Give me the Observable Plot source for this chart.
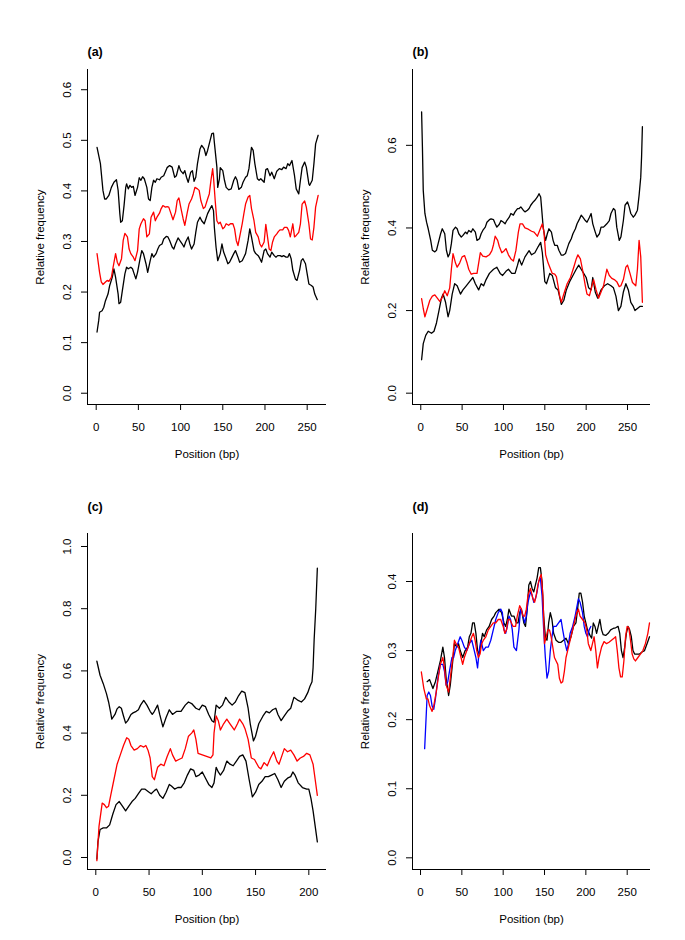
<!DOCTYPE html>
<html><head><meta charset="utf-8">
<script src="https://cdn.jsdelivr.net/npm/d3@7"></script>
<script src="https://cdn.jsdelivr.net/npm/@observablehq/plot@0.6"></script>
<style>
html,body{margin:0;padding:0;background:#fff;}
#chart{position:relative;width:685px;height:940px;overflow:hidden;background:#fff;}
#chart > svg{position:absolute;}
</style></head><body><div id="chart"></div>
<script>
// ---------- Panel (a) ----------
const aUpper = [[1,0.486],[5,0.454],[8,0.401],[10,0.384],[12,0.384],[15,0.391],[18,0.407],[21,0.417],[24,0.422],[26,0.401],[28,0.355],[29,0.338],[31,0.341],[33,0.371],[35,0.407],[36,0.414],[38,0.404],[40,0.411],[42,0.407],[44,0.409],[46,0.391],[49,0.407],[51,0.426],[53,0.421],[55,0.428],[57,0.424],[60,0.407],[62,0.384],[64,0.381],[66,0.407],[68,0.421],[70,0.417],[72,0.424],[75,0.422],[77,0.427],[80,0.430],[84,0.446],[87,0.450],[90,0.447],[93,0.427],[95,0.430],[98,0.450],[100,0.440],[103,0.434],[105,0.440],[107,0.427],[109,0.417],[112,0.437],[114,0.440],[116,0.419],[118,0.427],[120,0.454],[123,0.483],[125,0.490],[128,0.483],[130,0.470],[132,0.480],[135,0.500],[137,0.513],[139,0.514],[140,0.496],[143,0.447],[144,0.407],[146,0.424],[147,0.446],[150,0.440],[152,0.421],[154,0.407],[157,0.402],[160,0.404],[163,0.421],[165,0.428],[167,0.421],[169,0.403],[172,0.407],[174,0.417],[177,0.427],[179,0.430],[181,0.444],[184,0.486],[186,0.480],[188,0.454],[191,0.424],[193,0.421],[195,0.424],[199,0.417],[201,0.442],[203,0.444],[206,0.430],[208,0.437],[211,0.424],[214,0.439],[217,0.444],[220,0.442],[222,0.447],[225,0.444],[227,0.454],[229,0.450],[232,0.460],[235,0.430],[237,0.404],[240,0.394],[242,0.421],[244,0.446],[247,0.457],[249,0.447],[252,0.414],[253,0.411],[256,0.421],[258,0.454],[260,0.493],[263,0.510]];
const aMid = [[1,0.276],[4,0.239],[6,0.220],[8,0.215],[11,0.220],[13,0.223],[15,0.221],[18,0.229],[20,0.249],[23,0.276],[25,0.259],[27,0.252],[30,0.266],[32,0.302],[34,0.316],[37,0.309],[39,0.285],[41,0.276],[44,0.269],[46,0.262],[49,0.282],[51,0.325],[53,0.335],[56,0.345],[58,0.341],[60,0.309],[63,0.315],[65,0.348],[68,0.358],[70,0.341],[72,0.348],[75,0.356],[77,0.365],[79,0.371],[82,0.368],[84,0.369],[86,0.368],[89,0.353],[91,0.343],[94,0.358],[96,0.381],[98,0.386],[101,0.361],[103,0.345],[105,0.332],[108,0.358],[110,0.374],[113,0.384],[115,0.394],[117,0.407],[120,0.404],[122,0.401],[124,0.381],[127,0.365],[129,0.368],[132,0.384],[134,0.394],[136,0.421],[138,0.444],[139,0.427],[141,0.381],[143,0.341],[145,0.335],[147,0.338],[150,0.325],[152,0.328],[154,0.335],[157,0.332],[159,0.335],[162,0.335],[164,0.325],[166,0.302],[168,0.292],[170,0.309],[173,0.335],[175,0.355],[177,0.374],[180,0.388],[182,0.391],[184,0.365],[187,0.341],[189,0.318],[192,0.309],[194,0.295],[196,0.289],[199,0.299],[201,0.334],[203,0.309],[205,0.285],[207,0.282],[209,0.299],[211,0.309],[214,0.315],[216,0.320],[218,0.323],[221,0.323],[223,0.328],[226,0.328],[228,0.322],[230,0.309],[233,0.335],[235,0.309],[237,0.312],[240,0.318],[242,0.335],[244,0.374],[247,0.380],[249,0.368],[252,0.335],[254,0.305],[256,0.303],[258,0.328],[260,0.368],[263,0.391]];
const aLower = [[1,0.121],[3,0.144],[4,0.160],[7,0.163],[9,0.170],[11,0.183],[14,0.196],[16,0.213],[19,0.229],[21,0.246],[23,0.229],[26,0.196],[27,0.177],[29,0.180],[31,0.203],[34,0.236],[36,0.249],[38,0.246],[41,0.249],[43,0.246],[45,0.236],[47,0.226],[49,0.239],[52,0.266],[54,0.282],[56,0.276],[59,0.256],[61,0.239],[64,0.262],[66,0.276],[68,0.269],[71,0.276],[73,0.285],[75,0.292],[78,0.295],[80,0.305],[83,0.310],[85,0.309],[87,0.302],[90,0.289],[92,0.285],[94,0.295],[97,0.307],[99,0.302],[102,0.295],[104,0.289],[106,0.299],[109,0.309],[111,0.295],[113,0.285],[116,0.295],[118,0.318],[120,0.338],[123,0.348],[125,0.341],[128,0.335],[130,0.345],[132,0.355],[135,0.365],[137,0.371],[139,0.361],[140,0.328],[142,0.289],[144,0.262],[147,0.276],[149,0.295],[151,0.279],[154,0.266],[156,0.256],[158,0.259],[161,0.269],[163,0.276],[165,0.282],[168,0.269],[170,0.259],[173,0.262],[175,0.269],[177,0.276],[180,0.302],[182,0.325],[184,0.309],[187,0.282],[189,0.276],[192,0.272],[194,0.266],[196,0.259],[199,0.282],[201,0.285],[203,0.276],[206,0.269],[208,0.279],[211,0.272],[213,0.269],[215,0.272],[218,0.272],[220,0.270],[222,0.272],[225,0.269],[227,0.269],[229,0.276],[231,0.266],[233,0.243],[236,0.226],[238,0.223],[241,0.243],[243,0.262],[245,0.266],[248,0.256],[250,0.236],[252,0.216],[255,0.213],[257,0.210],[259,0.196],[262,0.185]];

// ---------- Panel (b) ----------
const bUpper = [[1,0.681],[2,0.596],[3,0.491],[5,0.435],[7,0.414],[9,0.398],[12,0.370],[14,0.346],[17,0.342],[19,0.346],[21,0.362],[24,0.386],[26,0.398],[29,0.386],[31,0.346],[33,0.330],[35,0.338],[37,0.362],[39,0.394],[42,0.402],[44,0.398],[46,0.386],[49,0.378],[51,0.382],[54,0.390],[56,0.386],[58,0.394],[61,0.390],[63,0.398],[66,0.390],[68,0.370],[71,0.374],[73,0.386],[75,0.394],[78,0.402],[80,0.414],[83,0.420],[85,0.422],[88,0.420],[90,0.410],[92,0.402],[95,0.409],[97,0.418],[100,0.414],[102,0.410],[104,0.418],[107,0.426],[109,0.435],[112,0.431],[114,0.439],[117,0.447],[119,0.447],[121,0.451],[124,0.443],[126,0.439],[129,0.443],[131,0.447],[133,0.455],[136,0.463],[138,0.467],[141,0.475],[143,0.483],[145,0.475],[146,0.451],[148,0.402],[150,0.378],[151,0.370],[153,0.386],[155,0.398],[158,0.390],[160,0.370],[162,0.358],[165,0.358],[167,0.346],[170,0.334],[172,0.334],[175,0.338],[177,0.350],[179,0.362],[182,0.374],[184,0.386],[187,0.398],[189,0.410],[192,0.422],[194,0.431],[196,0.426],[199,0.418],[201,0.414],[204,0.426],[206,0.435],[208,0.410],[211,0.390],[213,0.378],[216,0.386],[218,0.402],[221,0.402],[223,0.406],[225,0.410],[228,0.418],[230,0.435],[233,0.447],[235,0.443],[237,0.402],[240,0.370],[242,0.378],[245,0.418],[247,0.455],[250,0.463],[252,0.451],[254,0.435],[257,0.426],[259,0.431],[262,0.443],[264,0.479],[266,0.523],[267,0.572],[268,0.645]];
const bMid = [[1,0.229],[3,0.205],[5,0.185],[8,0.205],[11,0.225],[14,0.235],[17,0.238],[20,0.230],[23,0.222],[26,0.232],[29,0.248],[32,0.236],[35,0.255],[37,0.30],[39,0.338],[42,0.315],[44,0.305],[47,0.315],[50,0.33],[53,0.333],[56,0.315],[58,0.30],[61,0.288],[64,0.29],[68,0.29],[70,0.315],[72,0.34],[75,0.332],[79,0.33],[83,0.335],[86,0.345],[88,0.36],[90,0.38],[93,0.37],[95,0.355],[98,0.34],[101,0.345],[103,0.35],[106,0.335],[109,0.325],[112,0.32],[115,0.345],[118,0.39],[120,0.41],[123,0.41],[126,0.40],[130,0.397],[134,0.392],[137,0.39],[141,0.38],[144,0.395],[147,0.41],[149,0.39],[151,0.335],[154,0.315],[157,0.30],[159,0.29],[162,0.288],[164,0.282],[166,0.26],[168,0.235],[170,0.22],[173,0.24],[177,0.265],[181,0.28],[185,0.305],[188,0.325],[190,0.335],[193,0.325],[196,0.295],[199,0.26],[201,0.24],[204,0.236],[207,0.26],[209,0.275],[212,0.25],[215,0.23],[218,0.245],[221,0.26],[223,0.28],[225,0.30],[228,0.285],[231,0.278],[234,0.275],[237,0.27],[240,0.258],[242,0.26],[245,0.275],[248,0.305],[250,0.31],[253,0.29],[256,0.268],[260,0.26],[262,0.30],[264,0.37],[266,0.33],[268,0.22]];
const bLower = [[1,0.081],[3,0.12],[6,0.14],[9,0.15],[13,0.145],[16,0.15],[19,0.17],[22,0.20],[25,0.23],[27,0.24],[30,0.22],[33,0.185],[35,0.20],[38,0.24],[41,0.265],[44,0.26],[48,0.24],[51,0.25],[55,0.26],[59,0.27],[63,0.28],[66,0.265],[70,0.25],[73,0.265],[76,0.26],[79,0.275],[83,0.29],[88,0.30],[92,0.305],[96,0.29],[99,0.285],[103,0.295],[106,0.30],[110,0.29],[114,0.29],[117,0.31],[119,0.325],[122,0.31],[126,0.33],[131,0.345],[134,0.335],[138,0.34],[142,0.355],[145,0.365],[147,0.34],[150,0.27],[152,0.265],[156,0.29],[159,0.285],[163,0.255],[166,0.25],[170,0.215],[173,0.225],[176,0.25],[180,0.27],[184,0.285],[188,0.30],[191,0.31],[194,0.30],[197,0.29],[200,0.28],[203,0.255],[206,0.25],[208,0.28],[211,0.245],[214,0.23],[218,0.25],[222,0.26],[226,0.265],[230,0.26],[233,0.255],[236,0.235],[239,0.20],[242,0.21],[245,0.245],[248,0.265],[251,0.25],[254,0.22],[257,0.21],[259,0.20],[262,0.205],[265,0.21],[268,0.21]];

// ---------- Panel (c) ----------
const cUpper = [[1,0.631],[4,0.586],[7,0.559],[10,0.527],[12,0.50],[14,0.465],[15,0.445],[18,0.46],[20,0.478],[22,0.485],[24,0.48],[26,0.455],[28,0.432],[30,0.44],[33,0.46],[35,0.465],[38,0.47],[40,0.475],[42,0.49],[45,0.505],[48,0.49],[51,0.47],[53,0.46],[55,0.47],[58,0.49],[60,0.46],[63,0.42],[66,0.45],[69,0.475],[72,0.46],[76,0.47],[80,0.47],[84,0.49],[87,0.50],[90,0.495],[94,0.48],[97,0.475],[100,0.49],[103,0.485],[106,0.46],[109,0.44],[111,0.435],[113,0.49],[116,0.48],[119,0.49],[122,0.515],[125,0.50],[128,0.49],[131,0.50],[134,0.52],[137,0.535],[140,0.53],[143,0.48],[145,0.43],[148,0.375],[150,0.39],[153,0.43],[157,0.455],[160,0.47],[163,0.465],[166,0.475],[169,0.48],[171,0.46],[174,0.44],[177,0.455],[180,0.47],[183,0.48],[186,0.515],[190,0.505],[193,0.50],[196,0.51],[199,0.53],[201,0.55],[203,0.565],[204,0.61],[205,0.70],[206.5,0.80],[208,0.93]];
const cMid = [[1,-0.01],[3,0.10],[6,0.175],[8,0.17],[10,0.16],[12,0.165],[14,0.20],[17,0.25],[20,0.30],[23,0.33],[26,0.36],[29,0.385],[31,0.38],[33,0.36],[36,0.345],[39,0.35],[42,0.36],[45,0.355],[47,0.36],[49,0.345],[51,0.32],[53,0.26],[55,0.25],[58,0.29],[61,0.30],[64,0.295],[67,0.325],[70,0.35],[72,0.33],[75,0.31],[78,0.315],[81,0.32],[84,0.35],[87,0.39],[90,0.40],[92,0.41],[94,0.38],[96,0.335],[100,0.33],[104,0.325],[108,0.32],[110,0.33],[111,0.40],[113,0.455],[115,0.44],[117,0.41],[120,0.43],[123,0.445],[126,0.43],[130,0.41],[133,0.43],[135,0.445],[138,0.43],[140,0.415],[143,0.38],[146,0.32],[149,0.315],[153,0.29],[155,0.285],[158,0.305],[161,0.295],[164,0.32],[167,0.34],[170,0.31],[172,0.30],[175,0.33],[177,0.35],[180,0.34],[183,0.345],[186,0.33],[189,0.31],[192,0.32],[195,0.325],[198,0.335],[201,0.33],[204,0.30],[206,0.25],[208,0.20]];
const cLower = [[1,-0.005],[2,0.05],[4,0.09],[7,0.095],[10,0.095],[13,0.105],[16,0.14],[19,0.17],[22,0.18],[25,0.165],[28,0.15],[31,0.165],[34,0.18],[37,0.19],[40,0.205],[43,0.22],[46,0.22],[50,0.21],[52,0.205],[55,0.215],[57,0.22],[60,0.20],[63,0.19],[66,0.21],[69,0.235],[71,0.23],[74,0.22],[77,0.225],[80,0.225],[83,0.24],[86,0.265],[89,0.285],[92,0.28],[94,0.26],[97,0.265],[100,0.275],[103,0.255],[106,0.235],[109,0.225],[111,0.24],[113,0.29],[115,0.275],[117,0.265],[120,0.28],[123,0.31],[126,0.30],[129,0.295],[132,0.31],[135,0.325],[138,0.33],[141,0.31],[144,0.25],[147,0.195],[150,0.21],[153,0.235],[156,0.245],[159,0.26],[162,0.26],[165,0.265],[168,0.27],[171,0.25],[174,0.225],[177,0.245],[180,0.255],[183,0.26],[185,0.275],[187,0.265],[190,0.24],[194,0.225],[198,0.22],[200,0.22],[202,0.19],[204,0.15],[206,0.10],[208,0.05]];

// ---------- Panel (d) ----------
const dBlack = [[8,0.255],[11,0.258],[15,0.245],[18,0.255],[21,0.27],[24,0.285],[27,0.305],[29,0.29],[31,0.26],[34,0.235],[36,0.25],[39,0.285],[41,0.31],[44,0.305],[46,0.31],[48,0.30],[51,0.29],[54,0.30],[57,0.305],[59,0.32],[61,0.325],[63,0.34],[65,0.34],[67,0.325],[69,0.30],[71,0.295],[73,0.31],[75,0.325],[77,0.32],[80,0.33],[83,0.335],[86,0.345],[89,0.35],[91,0.355],[95,0.36],[98,0.355],[101,0.34],[103,0.335],[105,0.345],[107,0.36],[110,0.35],[113,0.35],[116,0.34],[118,0.34],[120,0.355],[122,0.36],[125,0.34],[127,0.335],[129,0.36],[131,0.395],[133,0.40],[135,0.39],[137,0.385],[139,0.395],[141,0.405],[143,0.42],[145,0.42],[147,0.40],[149,0.35],[151,0.32],[153,0.315],[155,0.34],[157,0.355],[159,0.345],[161,0.325],[164,0.315],[167,0.312],[170,0.312],[173,0.315],[176,0.318],[179,0.31],[182,0.32],[185,0.335],[188,0.34],[190,0.36],[192,0.383],[194,0.383],[196,0.37],[198,0.35],[200,0.34],[202,0.33],[205,0.322],[207,0.318],[209,0.34],[211,0.335],[213,0.325],[215,0.335],[217,0.345],[219,0.33],[221,0.323],[224,0.322],[227,0.325],[230,0.33],[233,0.332],[236,0.333],[239,0.335],[241,0.325],[243,0.30],[245,0.29],[247,0.305],[249,0.325],[251,0.335],[253,0.33],[255,0.32],[257,0.30],[259,0.295],[262,0.295],[265,0.295],[268,0.298],[271,0.30],[274,0.31],[277,0.32]];
const dBlue = [[5,0.158],[8,0.235],[10,0.24],[12,0.235],[14,0.22],[16,0.215],[18,0.23],[21,0.26],[24,0.28],[27,0.28],[29,0.27],[31,0.25],[33,0.255],[35,0.27],[38,0.29],[40,0.29],[42,0.30],[45,0.31],[48,0.32],[50,0.315],[53,0.305],[56,0.30],[59,0.31],[62,0.315],[65,0.30],[67,0.29],[69,0.275],[71,0.30],[73,0.315],[76,0.30],[79,0.305],[82,0.305],[85,0.315],[88,0.33],[91,0.345],[94,0.355],[97,0.36],[99,0.355],[101,0.33],[103,0.325],[105,0.335],[107,0.35],[109,0.345],[111,0.33],[113,0.305],[116,0.30],[119,0.33],[121,0.36],[123,0.355],[126,0.34],[128,0.35],[130,0.37],[133,0.385],[135,0.38],[137,0.37],[139,0.375],[141,0.385],[143,0.40],[145,0.405],[147,0.38],[149,0.33],[151,0.29],[153,0.26],[155,0.27],[157,0.30],[159,0.32],[161,0.335],[164,0.335],[167,0.34],[170,0.345],[172,0.33],[175,0.31],[177,0.30],[179,0.31],[181,0.325],[184,0.335],[187,0.35],[191,0.375],[193,0.37],[196,0.355],[198,0.335],[200,0.325],[202,0.32],[204,0.33],[206,0.335]];
const dRed = [[1,0.269],[4,0.245],[7,0.23],[9,0.23],[11,0.22],[14,0.212],[16,0.22],[19,0.24],[22,0.265],[24,0.28],[27,0.29],[29,0.275],[31,0.25],[34,0.24],[36,0.26],[39,0.29],[41,0.315],[43,0.31],[46,0.305],[49,0.29],[51,0.28],[53,0.29],[56,0.30],[59,0.31],[62,0.32],[64,0.325],[66,0.315],[68,0.30],[70,0.29],[72,0.295],[74,0.31],[76,0.315],[79,0.32],[82,0.33],[85,0.335],[88,0.34],[91,0.34],[94,0.345],[97,0.345],[100,0.335],[102,0.325],[104,0.33],[106,0.345],[108,0.345],[110,0.34],[112,0.335],[115,0.335],[117,0.35],[120,0.365],[122,0.36],[124,0.35],[126,0.35],[128,0.36],[130,0.38],[133,0.39],[136,0.375],[138,0.37],[140,0.38],[142,0.395],[144,0.405],[146,0.41],[148,0.38],[150,0.31],[152,0.32],[154,0.33],[156,0.33],[158,0.32],[160,0.305],[162,0.29],[164,0.285],[166,0.28],[168,0.26],[170,0.253],[172,0.255],[174,0.27],[176,0.29],[178,0.30],[180,0.31],[183,0.325],[186,0.34],[189,0.355],[191,0.36],[193,0.35],[196,0.345],[199,0.34],[201,0.33],[203,0.31],[206,0.30],[208,0.31],[210,0.32],[212,0.30],[214,0.275],[216,0.29],[219,0.305],[222,0.313],[225,0.31],[228,0.312],[231,0.315],[234,0.318],[236,0.32],[238,0.30],[240,0.275],[242,0.262],[244,0.262],[246,0.285],[248,0.32],[250,0.335],[252,0.333],[254,0.315],[256,0.295],[258,0.288],[260,0.285],[263,0.29],[266,0.295],[269,0.30],[272,0.31],[275,0.325],[277,0.34]];

// ---------- Tick labels ----------
const xTicks250 = [0, 50, 100, 150, 200, 250];
const xTicks200 = [0, 50, 100, 150, 200];
const yTicksA = [0, 0.1, 0.2, 0.3, 0.4, 0.5, 0.6];
const yTicksB = [0, 0.2, 0.4, 0.6];
const yTicksC = [0, 0.2, 0.4, 0.6, 0.8, 1.0];
const yTicksD = [0, 0.1, 0.2, 0.3, 0.4];
const titles = ["(a)", "(b)", "(c)", "(d)"];
const yLabel = "Relative frequency";
const xLabel = "Position (bp)";

const FONT = "'Liberation Sans', Arial, Helvetica, sans-serif";
const FS = 11.5;

function panel(cfg) {
  const {title, titleDy, series, xDomain, yDomain, xTicks, yTicks, left, top, width, height, mL, mR, mT, mB} = cfg;
  const marks = [
    ...series.map(s => Plot.line(s.data, {x: d => d[0], y: d => d[1], stroke: s.color, strokeWidth: 1.3, strokeLinejoin: "round"})),
    Plot.ruleX([xDomain[0]], {stroke: "#000", strokeWidth: 1}),
    Plot.ruleY([yDomain[0]], {stroke: "#000", strokeWidth: 1}),
    Plot.axisX(xTicks, {tickSize: 6, tickPadding: 12, tickFormat: d => String(d), label: null, fontSize: FS}),
    Plot.axisY(yTicks, {tickSize: 6, tickPadding: 11, tickRotate: -90, tickFormat: d3.format(".1f"), label: null, fontSize: FS}),
    Plot.text([title], {text: d => d, frameAnchor: "top-left", dy: titleDy, textAnchor: "start", lineAnchor: "bottom", fontWeight: "bold", fontSize: 12.5}),
    Plot.text([yLabel], {text: d => d, frameAnchor: "left", dx: -47, rotate: -90, lineAnchor: "middle", textAnchor: "middle", fontSize: FS}),
    Plot.text([xLabel], {text: d => d, frameAnchor: "bottom", dy: 50, lineAnchor: "middle", textAnchor: "middle", fontSize: FS})
  ];
  const svg = Plot.plot({
    width, height,
    marginLeft: mL, marginRight: mR, marginTop: mT, marginBottom: mB,
    x: {domain: xDomain},
    y: {domain: yDomain},
    style: {fontFamily: FONT, fontSize: FS + "px", color: "#000", background: "transparent", overflow: "visible"},
    marks
  });
  svg.style.left = left + "px";
  svg.style.top = top + "px";
  document.getElementById("chart").append(svg);
}

panel({title: titles[0], titleDy: -14, xDomain: [-10.3, 272.9], yDomain: [-0.0223, 0.640], xTicks: xTicks250, yTicks: yTicksA,
  left: 0, top: 0, width: 342, height: 470, mL: 87, mR: 16, mT: 69, mB: 66,
  series: [{data: aUpper, color: "#000"}, {data: aLower, color: "#000"}, {data: aMid, color: "#ff0000"}]});
panel({title: titles[1], titleDy: -14, xDomain: [-10.0, 277.8], yDomain: [-0.0274, 0.7836], xTicks: xTicks250, yTicks: yTicksB,
  left: 342, top: 0, width: 343, height: 470, mL: 70, mR: 35, mT: 69, mB: 66,
  series: [{data: bUpper, color: "#000"}, {data: bLower, color: "#000"}, {data: bMid, color: "#ff0000"}]});
panel({title: titles[2], titleDy: -22.5, xDomain: [-7.8, 216.6], yDomain: [-0.0386, 1.0418], xTicks: xTicks200, yTicks: yTicksC,
  left: 0, top: 470, width: 342, height: 470, mL: 87, mR: 16, mT: 63, mB: 71,
  series: [{data: cUpper, color: "#000"}, {data: cLower, color: "#000"}, {data: cMid, color: "#ff0000"}]});
panel({title: titles[3], titleDy: -22.5, xDomain: [-9.7, 278.2], yDomain: [-0.0169, 0.4695], xTicks: xTicks250, yTicks: yTicksD,
  left: 342, top: 470, width: 343, height: 470, mL: 70, mR: 35, mT: 63, mB: 71,
  series: [{data: dBlack, color: "#000"}, {data: dBlue, color: "#0000ff"}, {data: dRed, color: "#ff0000"}]});
</script>
</body></html>
